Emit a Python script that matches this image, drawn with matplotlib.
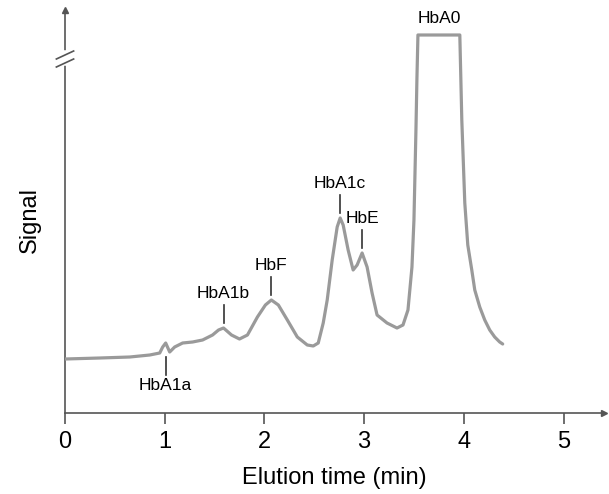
import matplotlib.pyplot as plt
import numpy as np

plt.rcParams['font.family'] = ['Liberation Sans', 'DejaVu Sans']

# chromatogram trace (minutes, signal in arbitrary units)
time = [0.0, 0.35, 0.65, 0.85, 0.95, 0.98, 1.01, 1.05, 1.10, 1.18, 1.28, 1.38,
        1.48, 1.54, 1.59, 1.67, 1.75, 1.83, 1.93, 2.01, 2.07, 2.14, 2.23, 2.33,
        2.43, 2.49, 2.54, 2.59, 2.63, 2.68, 2.73, 2.76, 2.79, 2.84, 2.89, 2.93,
        2.98, 3.03, 3.08, 3.13, 3.23, 3.33, 3.39, 3.44, 3.48, 3.50, 3.52, 3.53,
        3.54, 3.96, 3.98, 4.01, 4.04, 4.08, 4.11, 4.16, 4.21, 4.26, 4.31, 4.36,
        4.39]
signal = [54, 55, 56, 58, 60, 66, 70, 61, 66, 70, 71, 73,
          78, 83, 85, 78, 74, 78, 96, 108, 113, 108, 93, 76,
          68, 67, 70, 90, 113, 153, 186, 195, 188, 163, 143, 148,
          160, 146, 120, 98, 90, 85, 88, 103, 146, 193, 283, 335,
          378, 378, 293, 210, 168, 143, 123, 106, 93, 83, 76, 71,
          69]

# peaks that carry a label
peak_names = ['HbA1a', 'HbA1b', 'HbF', 'HbA1c', 'HbE', 'HbA0']
peak_times = [1.01, 1.59, 2.07, 2.76, 2.98, 3.75]

GREY = '#9a9a9a'
AXIS = '#555555'

fig = plt.figure(figsize=(6.09, 4.94), dpi=100)
ax = fig.add_axes([65 / 609, 81 / 494, 539 / 609, 403 / 494])

ax.plot(time, signal, color=GREY, linewidth=2.3, solid_joinstyle='round',
        solid_capstyle='round', zorder=3)

ax.set_xlim(0, 539 / 99.7)
ax.set_ylim(0, 403)

for side in ['top', 'right']:
    ax.spines[side].set_visible(False)
for side in ['left', 'bottom']:
    ax.spines[side].set_color(AXIS)
    ax.spines[side].set_linewidth(1.2)

ax.set_xticks([0, 1, 2, 3, 4, 5])
ax.tick_params(axis='x', direction='out', length=8, width=1.2, color=AXIS,
               labelsize=17, pad=5)
ax.set_yticks([])

# arrow heads on the axes
ax.plot(1, 0, '>', color=AXIS, markersize=5, transform=ax.transAxes, clip_on=False)
ax.plot(0, 1, '^', color=AXIS, markersize=5, transform=ax.transAxes, clip_on=False)

# axis break marks
ybt = ax.get_yaxis_transform()
ax.plot([0, 0], [350, 360], color='white', linewidth=4, transform=ybt,
        clip_on=False, zorder=5)
for yb in [350, 358]:
    ax.plot([-0.016, 0.016], [yb - 4, yb + 4], color=AXIS, linewidth=1.2,
            transform=ybt, clip_on=False, zorder=6)

# peak labels
for name, t in zip(peak_names, peak_times):
    v = np.interp(t, time, signal)
    if name == 'HbA1a':
        ax.plot([t, t], [v - 14, v - 32], color='#333333', linewidth=1.2)
        ax.text(t, v - 35, name, ha='center', va='top', fontsize=12.5)
    elif name == 'HbA0':
        ax.text(t, v + 9, name, ha='center', va='bottom', fontsize=12.5)
    else:
        ax.plot([t, t], [v + 5, v + 23], color='#333333', linewidth=1.2)
        ax.text(t, v + 27, name, ha='center', va='bottom', fontsize=12.5)

ax.set_xlabel('Elution time (min)', fontsize=17, labelpad=10)
ax.set_ylabel('Signal', fontsize=17)
ax.yaxis.set_label_coords(-0.045, 0.48)

fig.savefig('out.png', dpi=100)
plt.close(fig)
